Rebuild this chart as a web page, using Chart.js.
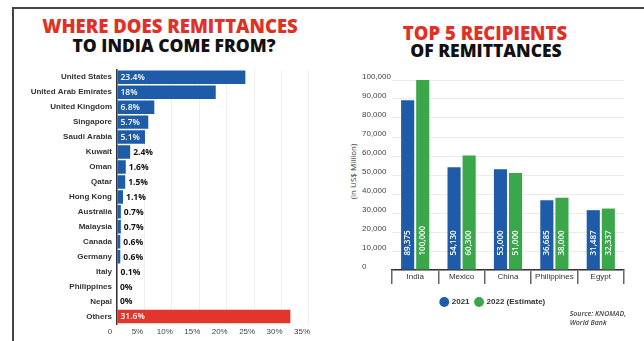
<!DOCTYPE html>
<html>
<head>
<meta charset="utf-8">
<script src="https://cdn.jsdelivr.net/npm/chart.js@4/dist/chart.umd.min.js"></script>
<style>
  body { margin:0; width:644px; height:341px; background:#fff; position:relative; overflow:hidden; font-family:'Open Sans', sans-serif; }
  .frame-top  { position:absolute; left:12px; top:7px; width:632px; height:2px; background:#444; }
  .frame-left { position:absolute; left:12px; top:7px; width:2px; height:334px; background:#444; }
  .ttl { position:absolute; text-align:center; font-weight:800; font-size:18.5px; line-height:1; letter-spacing:0; white-space:nowrap; }
  .red { color:#e03127; }
  .blk { color:#111; font-size:17.5px; }
  canvas { position:absolute; }
  .ytitle { position:absolute; left:302px; top:166px; width:100px; text-align:center; font-size:8px; color:#333; transform:rotate(-90deg); white-space:nowrap; }
  .source { position:absolute; right:18px; top:309px; font-size:7px; line-height:9px; font-style:italic; font-weight:600; color:#444; text-align:left; }
</style>
</head>
<body>
<div class="frame-top"></div>
<div class="frame-left"></div>

<div class="ttl red" style="left:20px;width:300px;top:17px">WHERE DOES REMITTANCES</div>
<div class="ttl blk" style="left:24px;width:300px;top:37px">TO INDIA COME FROM?</div>
<div class="ttl red" style="left:335px;width:300px;top:24px">TOP 5 RECIPIENTS</div>
<div class="ttl blk" style="left:336px;width:300px;top:42px">OF REMITTANCES</div>

<canvas id="shareChart" width="306" height="281" style="left:14px;top:60px"></canvas>
<canvas id="topChart" width="268" height="246" style="left:362px;top:70px"></canvas>
<div class="ytitle">(in US$ Million)</div>
<div class="source">Source: KNOMAD,<br>World Bank</div>

<script>
const BLUE  = '#1e5ba8';
const GREEN = '#3aa84a';
const RED   = '#e2352b';

// left chart: share of remittances to India
const countries = ['United States','United Arab Emirates','United Kingdom','Singapore','Saudi Arabia',
                   'Kuwait','Oman','Qatar','Hong Kong','Australia','Malaysia','Canada','Germany',
                   'Italy','Philippines','Nepal','Others'];
const shares = [23.4, 18, 6.8, 5.7, 5.1, 2.4, 1.6, 1.5, 1.1, 0.7, 0.7, 0.6, 0.6, 0.1, 0, 0, 31.6];
const shareTicks = [0, 5, 10, 15, 20, 25, 30, 35];

// right chart: top 5 recipients (US$ million)
const recipients = ['India','Mexico','China','Philippines','Egypt'];
const y2021 = [89375, 54130, 53000, 36685, 31487];
const y2022 = [100000, 60300, 51000, 38000, 32337];

const shareLabels = {
  id:'shareLabels',
  afterDatasetsDraw(chart) {
    const ctx = chart.ctx;
    const meta = chart.getDatasetMeta(0);
    ctx.save();
    ctx.textBaseline = 'middle';
    ctx.textAlign = 'left';
    meta.data.forEach((bar, i) => {
      const v = shares[i];
      const inside = v >= 5;
      ctx.font = inside ? '600 8.5px "Open Sans"' : '700 8.5px "Open Sans"';
      ctx.fillStyle = inside ? '#fff' : '#111';
      ctx.fillText(v + '%', inside ? bar.base + 3 : bar.x + 3, bar.y + 0.5);
    });
    ctx.restore();
  }
};

new Chart(document.getElementById('shareChart'), {
  type:'bar',
  data:{
    labels:countries,
    datasets:[{
      data:shares,
      backgroundColor:countries.map(c => c === 'Others' ? RED : BLUE),
      barPercentage:0.9,
      categoryPercentage:1
    }]
  },
  options:{
    indexAxis:'y',
    responsive:false,
    animation:false,
    layout:{ padding:{ top:2, right:0 } },
    plugins:{ legend:{display:false}, tooltip:{enabled:false} },
    scales:{
      x:{
        min:0, max:34.8,
        afterBuildTicks(s){ s.ticks = shareTicks.map(v => ({value:v})); },
        ticks:{ callback:v => v === 0 ? '0' : v + '%', color:'#444', font:{size:8}, padding:3,
                labelOffset:-7, maxRotation:0, autoSkip:false },
        grid:{ color:'#efefef', drawTicks:false },
        border:{ display:false },
        afterFit(s){ s.height = 17; }
      },
      y:{
        ticks:{ color:'#333', font:{size:8, weight:'600'}, padding:5, autoSkip:false },
        grid:{ display:false, drawTicks:false },
        border:{ color:'#333', width:1.5 },
        afterFit(s){ s.width = 103; }
      }
    }
  },
  plugins:[shareLabels]
});

const valueLabels = {
  id:'valueLabels',
  afterDatasetsDraw(chart) {
    const ctx = chart.ctx;
    ctx.save();
    ctx.font = '600 8px "Open Sans"';
    ctx.fillStyle = '#fff';
    ctx.textAlign = 'left';
    ctx.textBaseline = 'middle';
    chart.data.datasets.forEach((ds, di) => {
      chart.getDatasetMeta(di).data.forEach((bar, i) => {
        ctx.save();
        ctx.translate(bar.x, bar.base - 14);
        ctx.rotate(-Math.PI / 2);
        ctx.fillText(ds.data[i].toLocaleString('en-US'), 0, 0);
        ctx.restore();
      });
    });
    ctx.restore();
  }
};

new Chart(document.getElementById('topChart'), {
  type:'bar',
  data:{
    labels:recipients,
    datasets:[
      { label:'2021', data:y2021, backgroundColor:BLUE, barPercentage:0.87, categoryPercentage:0.65 },
      { label:'2022 (Estimate)', data:y2022, backgroundColor:GREEN, barPercentage:0.87, categoryPercentage:0.65 }
    ]
  },
  options:{
    responsive:false,
    animation:false,
    layout:{ padding:{ top:10, right:6 } },
    plugins:{
      tooltip:{enabled:false},
      legend:{
        position:'bottom',
        labels:{ usePointStyle:true, pointStyle:'circle', boxWidth:7, boxHeight:7, padding:6,
                 color:'#333', font:{size:8, weight:'600'} }
      }
    },
    scales:{
      x:{
        grid:{ offset:true, drawOnChartArea:false, color:'#666', lineWidth:1.5, tickLength:14 },
        border:{ color:'#333', width:1.5 },
        ticks:{ padding:-12, color:'#333', font:{size:8}, maxRotation:0, minRotation:0, autoSkip:false },
        afterFit(s){ s.height = 22; }
      },
      y:{
        min:0, max:100000,
        ticks:{ stepSize:10000, callback:v => v.toLocaleString('en-US'), crossAlign:'far',
                color:'#444', font:{size:8}, labelOffset:-3 },
        grid:{ color:'#ececec', drawTicks:false },
        border:{ display:false },
        afterFit(s){ s.width = 30; }
      }
    }
  },
  plugins:[valueLabels]
});
</script>
</body>
</html>
